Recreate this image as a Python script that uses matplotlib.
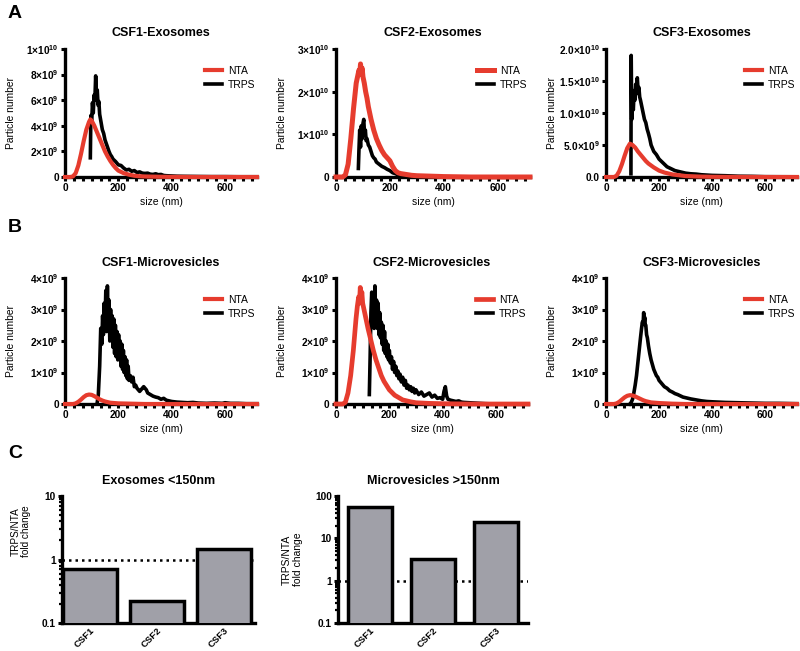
import numpy as np
import matplotlib
matplotlib.use("Agg")
import matplotlib.pyplot as plt
from matplotlib.ticker import MultipleLocator, LogLocator, NullFormatter

plt.rcParams["font.family"] = ["Liberation Sans", "DejaVu Sans"]
plt.rcParams["font.weight"] = "bold"
plt.rcParams["mathtext.fontset"] = "custom"
plt.rcParams["mathtext.rm"] = "Liberation Sans:bold"
plt.rcParams["mathtext.default"] = "rm"

RED = "#e63c2e"
GREY = "#a0a0a8"

# size distributions: (size nm, particle number in units of 1e9)
a1_nta = [(0, 0), (20, 0), (30, 0.05), (40, 0.3), (50, 0.9), (60, 1.8), (70, 2.8), (80, 3.7),
          (90, 4.3), (95, 4.5), (100, 4.4), (110, 4.0), (120, 3.5), (130, 3.0), (140, 2.5),
          (150, 2.0), (160, 1.6), (170, 1.25), (180, 0.95), (190, 0.7), (200, 0.5), (220, 0.3),
          (240, 0.18), (260, 0.1), (280, 0.06), (300, 0.04), (350, 0.02), (400, 0.01),
          (500, 0), (600, 0), (720, 0)]
a1_trps = [(95, 1.5), (97, 4.8), (100, 4.2), (103, 5.8), (106, 5.0), (109, 6.4), (112, 6.0),
           (115, 7.9), (118, 6.3), (121, 6.8), (124, 5.6), (127, 5.9), (130, 4.9), (135, 4.3),
           (140, 3.7), (145, 3.4), (150, 2.9), (155, 2.6), (160, 2.3), (165, 2.0), (170, 1.75),
           (175, 1.6), (180, 1.4), (190, 1.2), (200, 0.95), (210, 0.9), (220, 0.7), (230, 0.55),
           (240, 0.6), (250, 0.45), (260, 0.5), (270, 0.35), (280, 0.4), (290, 0.3), (300, 0.28),
           (310, 0.3), (320, 0.22), (330, 0.2), (340, 0.25), (350, 0.18), (360, 0.2), (370, 0.12),
           (380, 0.1), (400, 0.08), (420, 0.06), (450, 0.05), (500, 0.04), (550, 0.03),
           (600, 0.03), (650, 0.02), (720, 0.02)]

a2_nta = [(0, 0), (25, 0), (35, 0.5), (45, 3), (55, 9), (65, 16), (70, 19), (75, 22), (80, 23.5),
          (85, 25), (88, 24), (91, 26.5), (94, 24.5), (97, 25.5), (100, 23.5), (105, 22),
          (110, 20), (115, 18.5), (120, 16.5), (130, 13.5), (140, 11), (150, 9), (160, 7.5),
          (170, 6.2), (180, 5.2), (190, 4.5), (200, 3.8), (210, 2.5), (220, 1.5), (230, 1.0),
          (240, 0.8), (260, 0.6), (280, 0.4), (300, 0.3), (350, 0.2), (400, 0.1), (500, 0),
          (600, 0), (720, 0)]
a2_trps = [(83, 2), (85, 6), (88, 11), (91, 7), (94, 12), (97, 9), (100, 12.5), (103, 13.5),
           (106, 10), (109, 11), (112, 8.5), (115, 9), (120, 7.5), (125, 7), (130, 6), (135, 5),
           (140, 4.5), (145, 4.2), (150, 3.5), (160, 3), (170, 2.5), (180, 2.2), (190, 1.8),
           (200, 1.5), (210, 1.0), (220, 0.8), (230, 0.5), (240, 0.4), (260, 0.3), (280, 0.2),
           (300, 0.15), (330, 0.1), (360, 0.05), (400, 0.03), (500, 0.02), (600, 0.01),
           (720, 0.01)]

a3_nta = [(0, 0), (30, 0), (40, 0.2), (50, 0.9), (60, 2.0), (70, 3.3), (80, 4.5), (90, 5.2),
          (100, 5.0), (110, 4.6), (120, 4.0), (130, 3.5), (140, 3.0), (150, 2.5), (160, 2.1),
          (180, 1.5), (200, 1.0), (220, 0.7), (250, 0.4), (300, 0.15), (350, 0.07), (400, 0.03),
          (500, 0.01), (600, 0), (720, 0)]
a3_trps = [(94, 0.5), (95, 19.0), (97, 9.0), (100, 11.5), (103, 10.5), (106, 13.5), (109, 12.0),
           (112, 14.5), (115, 13.0), (118, 15.5), (121, 13.5), (124, 14.0), (127, 12.5),
           (130, 12.0), (135, 11.0), (140, 10.0), (145, 9.0), (150, 8.5), (155, 7.5), (160, 6.8),
           (165, 6.0), (170, 5.0), (175, 4.5), (180, 4.0), (190, 3.5), (200, 2.8), (210, 2.4),
           (220, 2.0), (230, 1.6), (240, 1.4), (250, 1.2), (260, 1.0), (270, 0.9), (280, 0.8),
           (300, 0.6), (320, 0.5), (340, 0.45), (360, 0.35), (380, 0.3), (400, 0.25), (450, 0.2),
           (500, 0.12), (550, 0.1), (600, 0.05), (650, 0.04), (720, 0.03)]

b1_nta = [(0, 0), (30, 0), (40, 0.02), (50, 0.07), (60, 0.14), (70, 0.22), (80, 0.28), (90, 0.3),
          (100, 0.29), (110, 0.25), (120, 0.2), (130, 0.15), (140, 0.11), (150, 0.08),
          (170, 0.04), (200, 0.02), (250, 0.01), (300, 0), (720, 0)]
b1_trps = [(120, 0), (125, 0.3), (130, 1.2), (134, 2.4), (138, 1.9), (141, 2.8), (144, 2.2),
           (147, 3.2), (150, 2.5), (153, 3.6), (156, 2.3), (159, 3.75), (162, 2.6), (165, 3.3),
           (168, 2.0), (171, 3.0), (174, 2.2), (177, 2.8), (180, 1.8), (183, 2.7), (186, 1.6),
           (189, 2.5), (192, 1.5), (195, 2.3), (198, 1.4), (201, 2.2), (204, 1.5), (207, 2.0),
           (210, 1.2), (213, 1.9), (216, 1.1), (219, 1.7), (222, 1.0), (225, 1.5), (228, 0.9),
           (231, 1.4), (234, 0.8), (237, 1.2), (240, 0.75), (245, 0.9), (250, 0.7), (255, 0.85),
           (260, 0.55), (265, 0.6), (270, 0.5), (275, 0.45), (280, 0.4), (285, 0.45), (290, 0.5),
           (295, 0.55), (300, 0.5), (305, 0.45), (310, 0.35), (320, 0.3), (330, 0.25),
           (340, 0.22), (350, 0.2), (360, 0.15), (370, 0.18), (380, 0.12), (390, 0.1),
           (400, 0.08), (420, 0.06), (440, 0.05), (460, 0.04), (480, 0.05), (500, 0.03),
           (530, 0.02), (560, 0.03), (590, 0.02), (600, 0.04), (620, 0.02), (650, 0.02),
           (680, 0.01), (720, 0.01)]

b2_nta = [(0, 0), (25, 0), (35, 0.05), (45, 0.35), (55, 0.9), (65, 1.7), (70, 2.2), (75, 2.7),
          (80, 3.1), (85, 3.4), (88, 3.2), (91, 3.7), (94, 3.35), (97, 3.55), (100, 3.2),
          (105, 3.0), (110, 2.8), (115, 2.6), (120, 2.4), (130, 2.05), (140, 1.7), (150, 1.4),
          (160, 1.15), (170, 0.9), (180, 0.72), (200, 0.45), (220, 0.28), (250, 0.13),
          (280, 0.07), (300, 0.04), (350, 0.02), (400, 0.01), (500, 0), (600, 0), (720, 0)]
b2_trps = [(125, 0.3), (128, 1.5), (131, 2.9), (134, 3.55), (137, 2.5), (140, 3.2), (143, 2.4),
           (146, 3.75), (149, 2.6), (152, 3.3), (155, 2.4), (158, 3.2), (161, 2.2), (164, 2.9),
           (167, 2.1), (170, 2.6), (173, 1.9), (176, 2.5), (179, 1.7), (182, 2.3), (185, 1.6),
           (188, 2.0), (191, 1.5), (194, 1.9), (197, 1.4), (200, 1.7), (204, 1.3), (208, 1.5),
           (212, 1.1), (216, 1.35), (220, 1.0), (224, 1.2), (228, 0.9), (232, 1.05), (236, 0.8),
           (240, 0.95), (245, 0.7), (250, 0.85), (255, 0.6), (260, 0.75), (265, 0.5), (270, 0.6),
           (275, 0.45), (280, 0.55), (285, 0.4), (290, 0.5), (295, 0.35), (300, 0.45),
           (310, 0.3), (320, 0.38), (330, 0.25), (340, 0.3), (350, 0.35), (360, 0.22),
           (370, 0.28), (380, 0.18), (390, 0.2), (400, 0.15), (405, 0.4), (410, 0.55),
           (415, 0.25), (420, 0.15), (430, 0.12), (440, 0.1), (450, 0.08), (460, 0.1),
           (470, 0.06), (480, 0.05), (500, 0.04), (520, 0.03), (540, 0.02), (560, 0.01),
           (600, 0)]

b3_nta = [(0, 0), (30, 0), (40, 0.02), (50, 0.07), (60, 0.14), (70, 0.21), (80, 0.26), (90, 0.28),
          (100, 0.27), (110, 0.24), (120, 0.2), (130, 0.16), (140, 0.12), (150, 0.09),
          (170, 0.05), (200, 0.03), (250, 0.01), (300, 0), (720, 0)]
b3_trps = [(90, 0), (95, 0.05), (100, 0.15), (105, 0.35), (110, 0.6), (115, 0.9), (120, 1.3),
           (125, 1.7), (130, 2.1), (134, 2.4), (137, 2.6), (140, 2.55), (142, 2.9), (144, 2.6),
           (146, 2.75), (148, 2.5), (150, 2.5), (153, 2.2), (156, 2.1), (160, 1.85), (165, 1.6),
           (170, 1.4), (175, 1.25), (180, 1.1), (185, 1.0), (190, 0.9), (195, 0.85), (200, 0.75),
           (210, 0.65), (220, 0.55), (230, 0.5), (240, 0.42), (250, 0.38), (260, 0.33),
           (270, 0.3), (280, 0.26), (290, 0.22), (300, 0.2), (320, 0.16), (340, 0.13),
           (360, 0.1), (380, 0.08), (400, 0.07), (450, 0.05), (500, 0.04), (550, 0.03),
           (600, 0.02), (650, 0.02), (720, 0.01)]

# y ticks (units of 1e9) and their labels
a1_ticks = [0, 2, 4, 6, 8, 10]
a1_labels = ["0", r"$2{\times}10^{9}$", r"$4{\times}10^{9}$", r"$6{\times}10^{9}$",
             r"$8{\times}10^{9}$", r"$1{\times}10^{10}$"]
a2_ticks = [0, 10, 20, 30]
a2_labels = ["0", r"$1{\times}10^{10}$", r"$2{\times}10^{10}$", r"$3{\times}10^{10}$"]
a3_ticks = [0, 5, 10, 15, 20]
a3_labels = ["0.0", r"$5.0{\times}10^{9}$", r"$1.0{\times}10^{10}$", r"$1.5{\times}10^{10}$",
             r"$2.0{\times}10^{10}$"]
b_ticks = [0, 1, 2, 3, 4]
b_labels = ["0", r"$1{\times}10^{9}$", r"$2{\times}10^{9}$", r"$3{\times}10^{9}$",
            r"$4{\times}10^{9}$"]

# fold change TRPS/NTA
samples = ["CSF1", "CSF2", "CSF3"]
exo_fold = [0.72, 0.22, 1.45]
mv_fold = [56, 3.2, 24]

fig = plt.figure(figsize=(8, 6.51), dpi=100)
W, H = 800, 651


def add_ax(left, top, right, bottom):
    ax = fig.add_axes([left / W, 1 - bottom / H, (right - left) / W, (bottom - top) / H])
    ax.spines["top"].set_visible(False)
    ax.spines["right"].set_visible(False)
    for s in ("left", "bottom"):
        ax.spines[s].set_linewidth(2.4)
    ax.tick_params(which="both", direction="out", width=2.2, length=3, labelsize=7.3, pad=1.5)
    return ax


def dist_panel(box, title, nta, trps, ticks, labels, nta_lw=3.0):
    ax = add_ax(*box)
    nta = np.array(nta)
    trps = np.array(trps)
    ax.plot(trps[:, 0], trps[:, 1] * 1e9, color="black", lw=2.6, zorder=3, clip_on=False,
            label="TRPS")
    ax.plot(nta[:, 0], nta[:, 1] * 1e9, color=RED, lw=nta_lw, zorder=4, clip_on=False,
            label="NTA")
    ax.set_xlim(0, 720)
    ax.set_ylim(0, ticks[-1] * 1e9)
    ax.set_xticks([0, 200, 400, 600])
    ax.xaxis.set_minor_locator(MultipleLocator(200 / 6))
    ax.set_yticks([t * 1e9 for t in ticks])
    ax.set_yticklabels(labels)
    ax.set_title(title, fontsize=9, fontweight="bold", pad=9)
    ax.set_xlabel("size (nm)", fontsize=7.5, labelpad=3)
    ax.set_ylabel("Particle number", fontsize=7.4)
    ax.yaxis.set_label_coords(-0.255, 0.5)
    h, l = ax.get_legend_handles_labels()
    ax.legend(h[::-1], l[::-1], frameon=False, loc="upper left", bbox_to_anchor=(0.68, 0.94),
              prop={"size": 7.5, "weight": "normal"}, handlelength=1.6, handletextpad=0.6,
              labelspacing=0.35)
    return ax


dist_panel((65, 49, 257, 177), "CSF1-Exosomes", a1_nta, a1_trps, a1_ticks, a1_labels)
dist_panel((336, 49, 530, 177), "CSF2-Exosomes", a2_nta, a2_trps, a2_ticks, a2_labels, 3.6)
dist_panel((606, 49, 797, 177), "CSF3-Exosomes", a3_nta, a3_trps, a3_ticks, a3_labels)
dist_panel((65, 278, 257, 404), "CSF1-Microvesicles", b1_nta, b1_trps, b_ticks, b_labels)
dist_panel((336, 278, 528, 404), "CSF2-Microvesicles", b2_nta, b2_trps, b_ticks, b_labels, 3.4)
dist_panel((606, 278, 797, 404), "CSF3-Microvesicles", b3_nta, b3_trps, b_ticks, b_labels)


def fold_panel(box, title, vals, ylim, width, xlim, lab_size, lab_y, lab_x):
    ax = add_ax(*box)
    x = np.arange(len(samples))
    ax.axhline(1, color="black", lw=1.8, ls=(0, (1, 1.6)), zorder=1)
    ax.bar(x, vals, width=width, color=GREY, edgecolor="black", linewidth=2.5, zorder=3)
    ax.set_yscale("log")
    ax.set_ylim(*ylim)
    ax.set_xlim(*xlim)
    ax.yaxis.set_major_locator(LogLocator(base=10))
    ax.yaxis.set_minor_locator(LogLocator(base=10, subs=np.arange(2, 10)))
    ax.yaxis.set_minor_formatter(NullFormatter())
    ax.set_yticklabels([f"{v:g}" for v in ax.get_yticks()])
    ax.set_ylim(*ylim)
    ax.tick_params(axis="y", which="minor", length=2.5, width=1.6)
    ax.set_xticks(x)
    ax.set_xticklabels(samples, rotation=45, ha="right", rotation_mode="anchor", fontsize=6.8)
    ax.tick_params(axis="x", length=0, pad=2)
    ax.set_title(title, fontsize=9, fontweight="bold", pad=9)
    ax.set_ylabel("TRPS/NTA\nfold change", fontsize=lab_size, linespacing=1.1)
    ax.yaxis.set_label_coords(lab_x, lab_y)
    return ax


fold_panel((62, 496, 255, 623), "Exosomes <150nm", exo_fold, (0.1, 10), 0.8, (-0.42, 2.46),
           7.2, 0.72, -0.16)
fold_panel((338, 496, 528, 623), "Microvesicles >150nm", mv_fold, (0.1, 100), 0.7, (-0.5, 2.5),
           7.5, 0.5, -0.185)

for letter, yy in (("A", 13), ("B", 228), ("C", 453)):
    fig.text(8 / W, 1 - yy / H, letter, fontsize=14, fontweight="bold", va="center", ha="left")

fig.savefig("out.png", dpi=100)
